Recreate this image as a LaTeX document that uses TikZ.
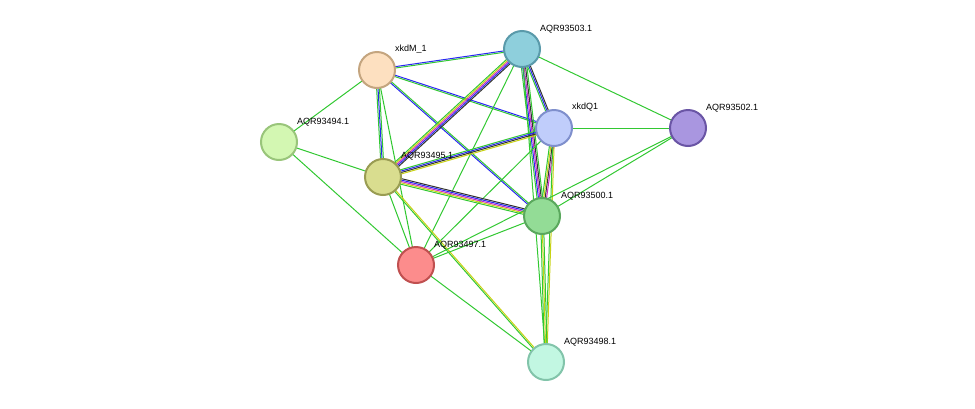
\documentclass[tikz,border=0pt]{standalone}
\usepackage{fontspec}
\setmainfont{Liberation Sans}
\usetikzlibrary{calc}
\definecolor{eg}{RGB}{50,200,50}
\definecolor{eb}{RGB}{40,40,240}
\definecolor{em}{RGB}{200,40,200}
\definecolor{ek}{RGB}{50,50,50}
\definecolor{ey}{RGB}{200,210,20}
\tikzset{
  prot/.style={circle,minimum size=36pt,inner sep=0pt,line width=2pt},
  lab/.style={anchor=south west,inner sep=0pt,font=\fontsize{9}{10}\selectfont},
  ed/.style={line width=1pt}
}
\newcommand\medge[3]{\foreach \c/\o in {#3}{\draw[ed,\c] ($(#1)!\o pt!90:(#2)$) -- ($(#2)!\o pt!-90:(#1)$);}}
\begin{document}
\begin{tikzpicture}[x=1pt,y=-1pt]
\useasboundingbox (0,0) rectangle (975,408);
\coordinate (m) at (377,70);
\coordinate (p3) at (522,49);
\coordinate (q) at (554,128);
\coordinate (p2) at (688,128);
\coordinate (p4) at (279,142);
\coordinate (p5) at (383,177);
\coordinate (p0) at (542,216);
\coordinate (p7) at (416,265);
\coordinate (p8) at (546,362);
\medge{m}{p3}{eg/-0.7,eb/0.7}
\medge{m}{q}{eg/-0.7,eb/0.7}
\medge{m}{p0}{eb/-0.7,eg/0.7}
\medge{m}{p4}{eg/0}
\medge{m}{p5}{eg/-1.4,eb/0,eg/1.4}
\medge{m}{p7}{eg/0}
\medge{p3}{q}{eg/-1.4,eb/0,ek/1.4}
\medge{p3}{p0}{eg/-2.8,eb/-1.4,em/0,ek/1.4,eg/2.8}
\medge{p3}{p5}{eg/-2.8,ey/-1.4,em/0,eb/1.4,ek/2.8}
\medge{p3}{p2}{eg/0}
\medge{p3}{p7}{eg/0}
\medge{p3}{p8}{eg/0}
\medge{q}{p5}{eg/-2.1,eb/-0.7,ek/0.7,ey/2.1}
\medge{q}{p0}{eg/-2.1,ey/-0.7,ek/0.7,em/2.1}
\medge{q}{p2}{eg/0}
\medge{q}{p7}{eg/0}
\medge{q}{p8}{eg/-0.7,ey/0.7}
\medge{p5}{p0}{eg/-2.8,ey/-1.4,em/0,eb/1.4,ek/2.8}
\medge{p5}{p7}{eg/0}
\medge{p5}{p8}{eg/-0.7,ey/0.7}
\medge{p4}{p5}{eg/0}
\medge{p4}{p7}{eg/0}
\medge{p0}{p7}{eg/0}
\medge{p0}{p2}{eg/0}
\medge{p7}{p2}{eg/0}
\medge{p0}{p8}{eg/-1.4,ey/0,eg/1.4}
\medge{p7}{p8}{eg/0}
\node[prot,fill={rgb,255:red,253;green,224;blue,192},draw={rgb,255:red,196;green,165;blue,127}] (nm) at (m) {};
\node[prot,fill={rgb,255:red,142;green,207;blue,220},draw={rgb,255:red,90;green,154;blue,170}] (n3) at (p3) {};
\node[prot,fill={rgb,255:red,192;green,205;blue,251},draw={rgb,255:red,127;green,143;blue,204}] (nq) at (q) {};
\node[prot,fill={rgb,255:red,169;green,150;blue,224},draw={rgb,255:red,106;green,85;blue,165}] (n2) at (p2) {};
\node[prot,fill={rgb,255:red,211;green,247;blue,178},draw={rgb,255:red,153;green,197;blue,122}] (n4) at (p4) {};
\node[prot,fill={rgb,255:red,217;green,221;blue,143},draw={rgb,255:red,153;green,156;blue,82}] (n5) at (p5) {};
\node[prot,fill={rgb,255:red,147;green,220;blue,150},draw={rgb,255:red,90;green,168;blue,93}] (n0) at (p0) {};
\node[prot,fill={rgb,255:red,252;green,140;blue,140},draw={rgb,255:red,192;green,80;blue,80}] (n7) at (p7) {};
\node[prot,fill={rgb,255:red,194;green,247;blue,226},draw={rgb,255:red,130;green,196;blue,170}] (n8) at (p8) {};
\node[lab] (lm) at (395,53) {xkdM\_1};
\node[lab] (l3) at (540,33) {AQR93503.1};
\node[lab] (lq) at (572,111) {xkdQ1};
\node[lab] (l2) at (706,112) {AQR93502.1};
\node[lab] (l4) at (297,126) {AQR93494.1};
\node[lab] (l5) at (401,160) {AQR93495.1};
\node[lab] (l0) at (561,200) {AQR93500.1};
\node[lab] (l7) at (434,249) {AQR93497.1};
\node[lab] (l8) at (564,346) {AQR93498.1};
\end{tikzpicture}
\end{document}
